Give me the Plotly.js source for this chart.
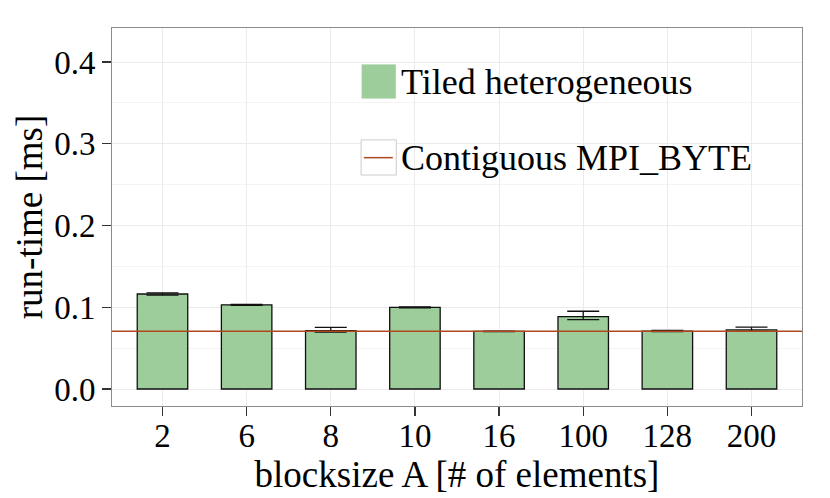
<!DOCTYPE html>
<html>
<head>
<meta charset="utf-8">
<script src="https://cdn.plot.ly/plotly-3.0.1.min.js"></script>
<style>
  html, body { margin: 0; padding: 0; background: #fff; }
  #chart { width: 830px; height: 498px; }
</style>
</head>
<body>
<div id="chart"></div>
<script>
// blocksize categories and measured run-times (ms)
const blocksizes = ['2', '6', '8', '10', '16', '100', '128', '200'];
const tiledRuntime = [0.1162, 0.1030, 0.0713, 0.0999, 0.0705, 0.0885, 0.0709, 0.0722];
const tiledErrUp = [0.0013, 0.0006, 0.0042, 0.0006, 0.0002, 0.0066, 0.0008, 0.0036];
const tiledErrDown = [0.0013, 0.0006, 0.0016, 0.0006, 0.0002, 0.0036, 0.0008, 0.0017];
const contiguousRuntime = 0.0705;
const yTicks = [0, 0.1, 0.2, 0.3, 0.4];
const yTickLabels = ['0.0', '0.1', '0.2', '0.3', '0.4'];

const serif = '"Liberation Serif", "DejaVu Serif", serif';
const barColor = '#9dcd9a';
const lineColor = '#b0481f';

const tiledTrace = {
  type: 'bar',
  name: 'Tiled heterogeneous',
  x: blocksizes,
  y: tiledRuntime,
  width: 0.6,
  marker: { color: barColor, line: { color: '#111', width: 1.3 } },
  error_y: {
    type: 'data',
    symmetric: false,
    array: tiledErrUp,
    arrayminus: tiledErrDown,
    color: '#111',
    thickness: 1.3,
    width: 16,
  },
  showlegend: false,
};

// horizontal reference line spanning the whole panel
const contiguousTrace = {
  type: 'scatter',
  mode: 'lines',
  name: 'Contiguous MPI_BYTE',
  x: [0, 1],
  y: [contiguousRuntime, contiguousRuntime],
  xaxis: 'x2',
  line: { color: lineColor, width: 1.5 },
  showlegend: false,
};

// hand-made legend (large keys like ggplot)
const legendShapes = [
  { type: 'rect', xref: 'paper', yref: 'paper', x0: 0.361, x1: 0.412, y0: 0.812, y1: 0.905,
    fillcolor: barColor, line: { color: '#fff', width: 1 } },
  { type: 'rect', xref: 'paper', yref: 'paper', x0: 0.361, x1: 0.412, y0: 0.611, y1: 0.704,
    fillcolor: '#fff', line: { color: '#cccccc', width: 1 } },
  { type: 'line', xref: 'paper', yref: 'paper', x0: 0.365, x1: 0.407, y0: 0.657, y1: 0.657,
    line: { color: lineColor, width: 1.5 } },
];
const legendLabels = [
  { text: 'Tiled heterogeneous', xref: 'paper', yref: 'paper', x: 0.416, y: 0.856,
    xanchor: 'left', yanchor: 'middle', showarrow: false, font: { family: serif, size: 36, color: '#000' } },
  { text: 'Contiguous MPI_BYTE', xref: 'paper', yref: 'paper', x: 0.416, y: 0.656,
    xanchor: 'left', yanchor: 'middle', showarrow: false, font: { family: serif, size: 36, color: '#000' } },
];

const layout = {
  width: 830,
  height: 498,
  margin: { l: 112, r: 28, t: 28, b: 92 },
  paper_bgcolor: '#fff',
  plot_bgcolor: '#fff',
  font: { family: serif, color: '#000' },
  xaxis: {
    type: 'category',
    range: [-0.6, 7.6],
    showgrid: true,
    gridcolor: '#ebebeb',
    gridwidth: 1,
    ticks: 'outside',
    ticklen: 9,
    tickwidth: 1.3,
    tickcolor: '#333',
    ticklabelstandoff: -9,
    tickfont: { family: serif, size: 33, color: '#000' },
    showline: true,
    linecolor: '#8c8c8c',
    linewidth: 1,
    mirror: true,
    zeroline: false,
    title: { text: 'blocksize A [# of elements]', font: { family: serif, size: 37, color: '#000' }, standoff: 0 },
  },
  xaxis2: {
    overlaying: 'x',
    range: [0, 1],
    visible: false,
  },
  yaxis: {
    range: [-0.0208, 0.4416],
    tickvals: yTicks,
    ticktext: yTickLabels,
    showgrid: true,
    gridcolor: '#ebebeb',
    gridwidth: 1,
    minor: { dtick: 0.05, tick0: 0.05, showgrid: true, gridcolor: '#f4f4f4', gridwidth: 1, ticks: '' },
    ticks: 'outside',
    ticklen: 9,
    tickwidth: 1.3,
    tickcolor: '#333',
    tickfont: { family: serif, size: 33, color: '#000' },
    showline: true,
    linecolor: '#8c8c8c',
    linewidth: 1,
    mirror: true,
    zeroline: false,
    title: { text: 'run-time [ms]', font: { family: serif, size: 37, color: '#000' }, standoff: 0 },
  },
  shapes: legendShapes,
  annotations: legendLabels,
  showlegend: false,
};

Plotly.newPlot('chart', [tiledTrace, contiguousTrace], layout, { staticPlot: true });
</script>
</body>
</html>
